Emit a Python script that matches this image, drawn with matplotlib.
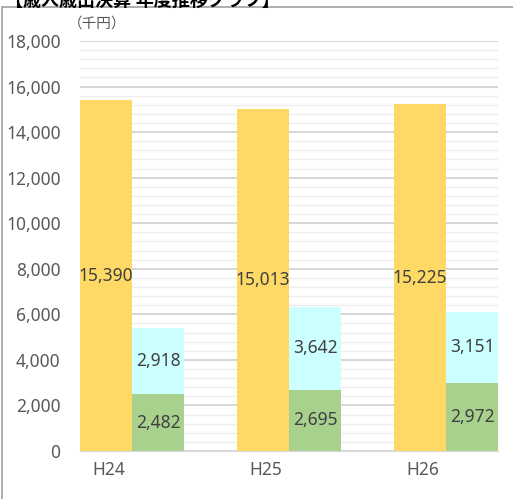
import numpy as np
import matplotlib
matplotlib.use("Agg")
import matplotlib.pyplot as plt
from matplotlib.patches import Rectangle

plt.rcParams['font.family'] = ['Noto Sans', 'Noto Sans CJK JP', 'DejaVu Sans']

# 年度別の金額（千円）
years = ['H24', 'H25', 'H26']
total = [15390, 15013, 15225]
lower = [2482, 2695, 2972]
upper = [2918, 3642, 3151]

yellow = '#FFD966'
cyan = '#CCFFFF'
green = '#A9D18E'
txt = '#404040'

fig = plt.figure(figsize=(5.13, 4.99), dpi=100)
ax = fig.add_axes([80 / 513, 1 - 451 / 499, 418 / 513, 410 / 499])

x = np.arange(len(years))
w = 0.331
off = 0.1656

ax.bar(x - off, total, width=w, color=yellow, zorder=3)
ax.bar(x + off, lower, width=w, color=green, zorder=3)
ax.bar(x + off, upper, width=w, bottom=lower, color=cyan, zorder=3)

for i in range(len(years)):
    ax.text(x[i] - off, total[i] / 2, f'{total[i]:,}', ha='center', va='center',
            fontsize=12.5, color=txt, zorder=4)
    ax.text(x[i] + off, lower[i] / 2, f'{lower[i]:,}', ha='center', va='center',
            fontsize=12.5, color=txt, zorder=4)
    ax.text(x[i] + off, lower[i] + upper[i] / 2, f'{upper[i]:,}', ha='center',
            va='center', fontsize=12.5, color=txt, zorder=4)

ax.set_xlim(-0.331, 2.331)
ax.set_ylim(0, 18000)
ax.set_yticks(np.arange(0, 18001, 2000))
ax.set_yticklabels([f'{v:,}' for v in range(0, 18001, 2000)])
ax.set_yticks(np.arange(0, 18001, 400), minor=True)
ax.set_xticks(x - 0.15)
ax.set_xticklabels(years)

ax.grid(axis='y', which='major', color='#D0D0D0', linewidth=1.2, zorder=0)
ax.grid(axis='y', which='minor', color='#EDEDED', linewidth=1.0, zorder=0)
ax.tick_params(axis='both', which='both', length=0, labelsize=12.5, colors='#595959')
ax.tick_params(axis='y', pad=14)
ax.tick_params(axis='x', pad=7)
for s in ['top', 'right', 'left']:
    ax.spines[s].set_visible(False)
ax.spines['bottom'].set_color('#D9D9D9')
ax.spines['bottom'].set_zorder(5)

# 外枠とタイトル
fig.patches.append(Rectangle((2 / 513, -0.1), 1.2, 1 - 7 / 499 + 0.1,
                             transform=fig.transFigure, fill=False,
                             edgecolor='#A0A0A0', linewidth=1.2))
fig.text(5 / 513, 1 - 1 / 499, '【歳入歳出決算 年度推移グラフ】', ha='left', va='center',
         fontsize=13, fontweight='bold', color='black')
fig.text(68 / 513, 1 - 24 / 499, '（千円）', ha='left', va='center',
         fontsize=10.5, color='#595959')

fig.savefig('out.png', dpi=100)
